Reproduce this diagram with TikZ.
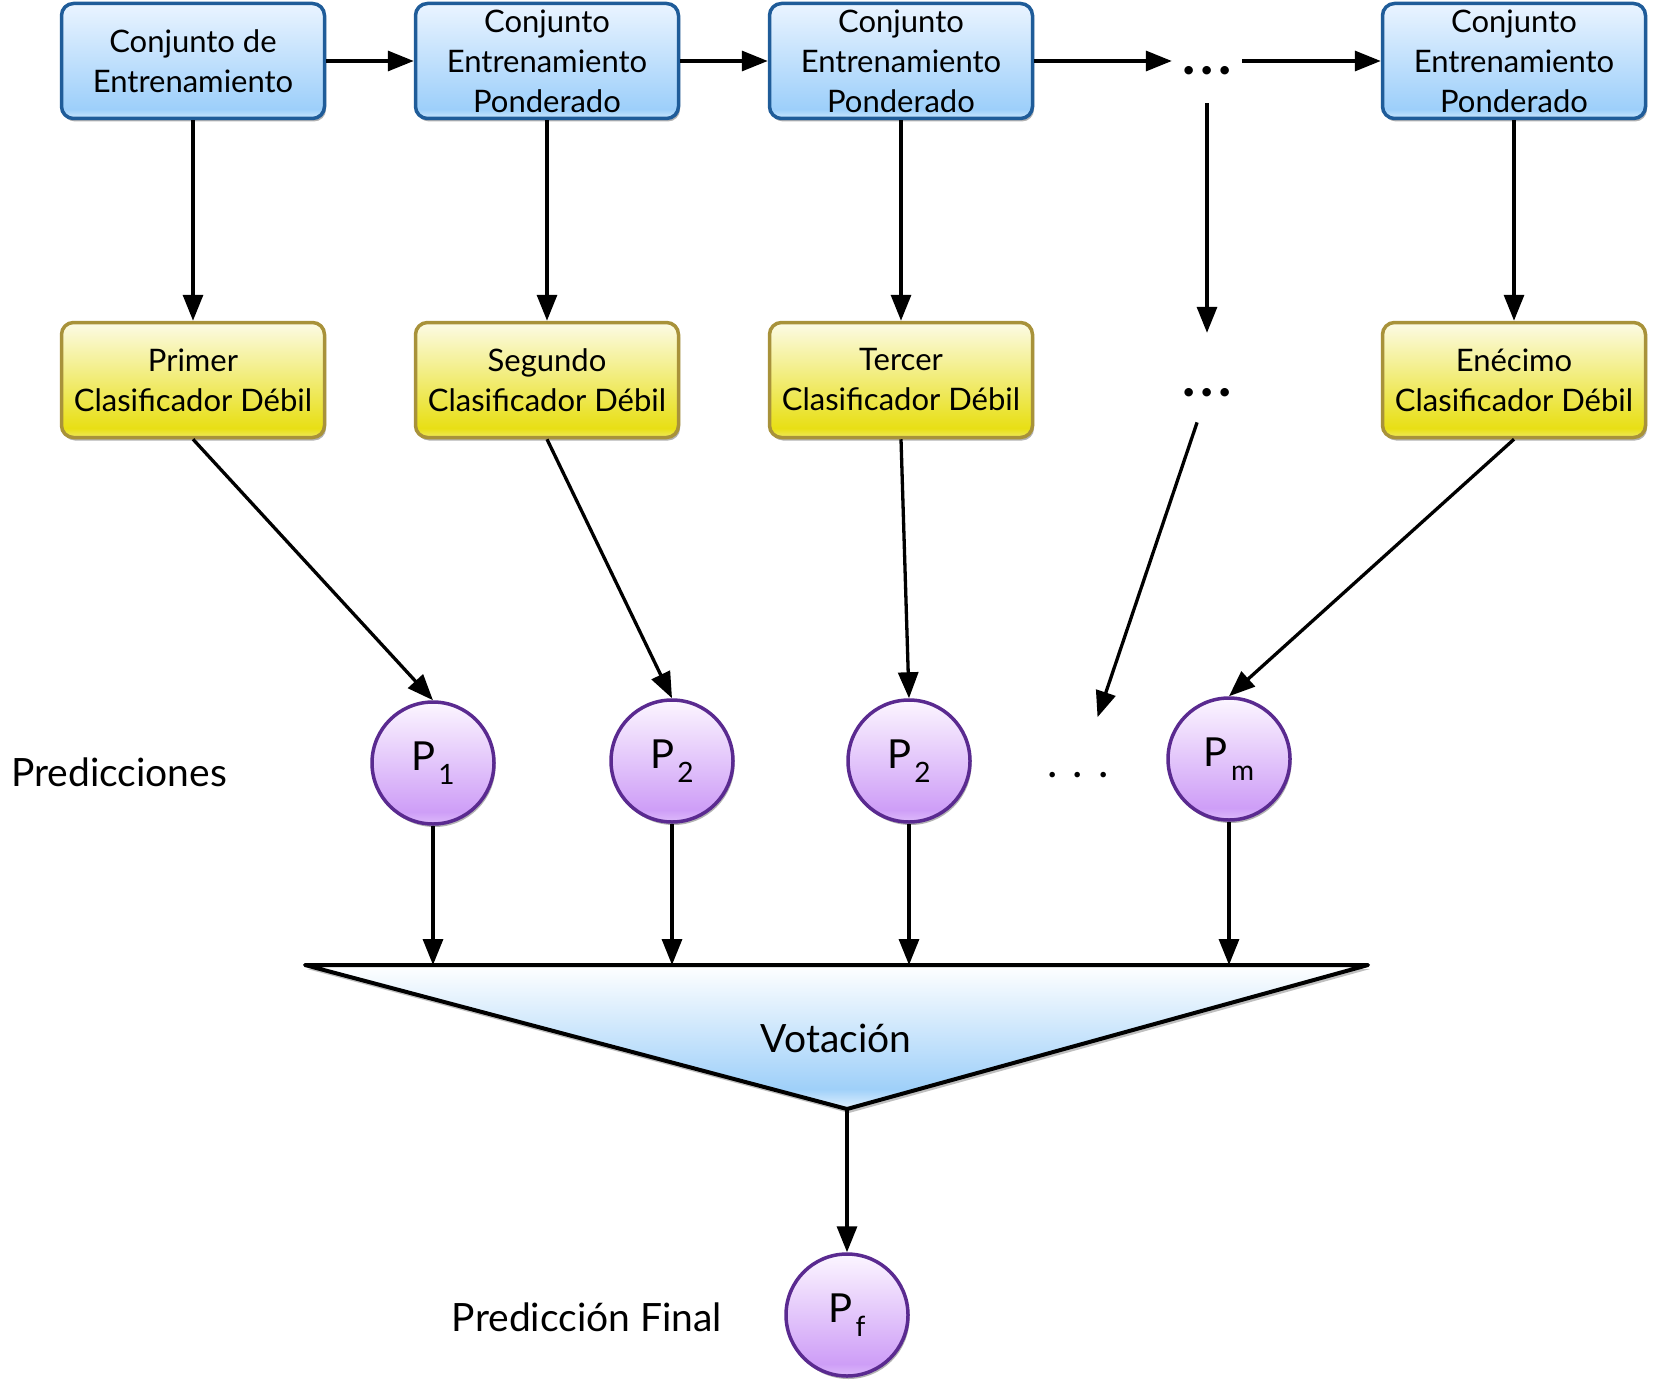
\documentclass[tikz,border=0pt]{standalone}
\usepackage{fontspec}
\setmainfont{Lato}
\usetikzlibrary{arrows.meta,shadows}
\definecolor{bluetop}{HTML}{EAF4FF}
\definecolor{bluebot}{HTML}{9DCFFA}
\definecolor{bluelow}{HTML}{CDE8FD}
\definecolor{bluebord}{HTML}{1F5C99}
\definecolor{ytop}{HTML}{FCFBE6}
\definecolor{ybot}{HTML}{E8DF14}
\definecolor{ylow}{HTML}{EFE960}
\definecolor{ybord}{HTML}{A8923A}
\definecolor{ptop}{HTML}{FCF6FF}
\definecolor{pbot}{HTML}{CE9EF7}
\definecolor{plow}{HTML}{DDBAFA}
\definecolor{pbord}{HTML}{5A2A90}
\definecolor{ttop}{HTML}{FFFFFF}
\definecolor{tbot}{HTML}{9FD0F9}
\definecolor{tlow}{HTML}{E2F1FE}
\pgfdeclareverticalshading{blueboxsh}{100bp}{color(0bp)=(bluelow); color(25bp)=(bluelow); color(29bp)=(bluebot); color(75bp)=(bluetop); color(100bp)=(bluetop)}
\pgfdeclareverticalshading{yboxsh}{100bp}{color(0bp)=(ylow); color(25bp)=(ylow); color(29bp)=(ybot); color(75bp)=(ytop); color(100bp)=(ytop)}
\pgfdeclareverticalshading{pcircsh}{100bp}{color(0bp)=(plow); color(25bp)=(plow); color(30bp)=(pbot); color(75bp)=(ptop); color(100bp)=(ptop)}
\pgfdeclareverticalshading{trish}{100bp}{color(0bp)=(tlow); color(25bp)=(tlow); color(32bp)=(tbot); color(75bp)=(ttop); color(100bp)=(ttop)}
\newcommand{\Psub}[1]{P\kern3pt\raisebox{-14pt}{\fontsize{28}{28}\selectfont #1}}
\tikzset{
  boxbase/.style={line width=3.5pt, rounded corners=12pt, minimum width=263pt, minimum height=115pt,
    align=center, inner sep=0pt, font=\fontsize{31}{40}\selectfont,
    drop shadow={opacity=0.3, shadow xshift=1.5pt, shadow yshift=-3pt, fill=black}},
  bluebox/.style={boxbase, draw=bluebord, shading=blueboxsh},
  ybox/.style={boxbase, draw=ybord, shading=yboxsh},
  pcirc/.style={circle, draw=pbord, line width=3.5pt, minimum size=122pt, inner sep=0pt,
    shading=pcircsh, font=\fontsize{40}{40}\selectfont,
    drop shadow={opacity=0.3, shadow xshift=1.5pt, shadow yshift=-3pt, fill=black}},
  arr/.style={line width=3.3pt, -{Triangle[length=26pt,width=20pt]}},
  bigdots/.style={inner sep=0pt, font=\fontsize{56}{56}\bfseries},
  lbl/.style={font=\fontsize{39}{44}\selectfont, inner sep=0pt}
}
\begin{document}
\begin{tikzpicture}[x=1pt,y=-1pt]
\useasboundingbox (0,0) rectangle (1653,1388);
% top row
\node[bluebox] (b1) at (193,61) {Conjunto de\\Entrenamiento};
\node[bluebox] (b2) at (547,61) {Conjunto\\Entrenamiento\\Ponderado};
\node[bluebox] (b3) at (901,61) {Conjunto\\Entrenamiento\\Ponderado};
\node[bluebox] (b5) at (1514,61) {Conjunto\\Entrenamiento\\Ponderado};
\node[bigdots, minimum width=70pt, minimum height=64pt] (dA) at (1207,71) {.\kern5pt.\kern5pt.};
% classifiers
\node[ybox] (y1) at (193,380) {Primer\\Clasificador Débil};
\node[ybox] (y2) at (547,380) {Segundo\\Clasificador Débil};
\node[ybox] (y3) at (901,380) {Tercer\\Clasificador Débil};
\node[ybox] (y5) at (1514,380) {Enécimo\\Clasificador Débil};
\node[bigdots, minimum height=120pt] (dB) at (1207,393) {.\kern5pt.\kern5pt.};
% predictions
\node[lbl, anchor=west] (pred) at (11,772) {Predicciones};
\node[pcirc] (p1) at (433,763) {\Psub{1}};
\node[pcirc] (p2) at (672,761) {\Psub{2}};
\node[pcirc] (p3) at (909,761) {\Psub{2}};
\node[inner sep=0pt, font=\fontsize{44}{44}\selectfont] (dC) at (1078,775) {.\kern15pt.\kern15pt.};
\node[pcirc] (pm) at (1229,759) {\Psub{m}};
% voting triangle
\coordinate (tl) at (305,965);
\coordinate (tr) at (1368,965);
\coordinate (ap) at (847,1109);
\fill[black, opacity=0.25] ([shift={(2,4)}]tl) -- ([shift={(2,4)}]tr) -- ([shift={(2,4)}]ap) -- cycle;
\shade[shading=trish] (tl) -- (tr) -- (ap) -- cycle;
\draw[line width=4pt, line join=round] (tl) -- (tr) -- (ap) -- cycle;
\node[lbl] (vot) at (836,1038) {Votación};
% final
\node[lbl] (pfin) at (587,1317) {Predicción Final};
\node[pcirc] (pf) at (847,1315) {\Psub{f}};
% arrows top row
\draw[arr] (b1.east) -- (b2.west);
\draw[arr] (b2.east) -- (b3.west);
\draw[arr] (b3.east) -- (dA.west |- b3.east);
\draw[arr] (dA.east |- b5.west) -- (b5.west);
% down arrows
\draw[arr] (b1.south) -- (y1.north);
\draw[arr] (b2.south) -- (y2.north);
\draw[arr] (b3.south) -- (y3.north);
\draw[arr] (b5.south) -- (y5.north);
\draw[arr] (dA.south) -- (dB.north);
% diagonal arrows
\draw[arr] (y1.south) -- (p1.north);
\draw[arr] (y2.south) -- (p2.north);
\draw[arr] (y3.south) -- (p3.north);
\draw[arr] (y5.south) -- (pm.north);
\draw[arr, shorten <=31pt, shorten >=61pt] (dB.center) -- (dC.center);
% to voting
\draw[arr] (p1.south) -- (p1.south |- tl);
\draw[arr] (p2.south) -- (p2.south |- tl);
\draw[arr] (p3.south) -- (p3.south |- tl);
\draw[arr] (pm.south) -- (pm.south |- tl);
\draw[arr] (ap) -- (pf.north);
\end{tikzpicture}
\end{document}
